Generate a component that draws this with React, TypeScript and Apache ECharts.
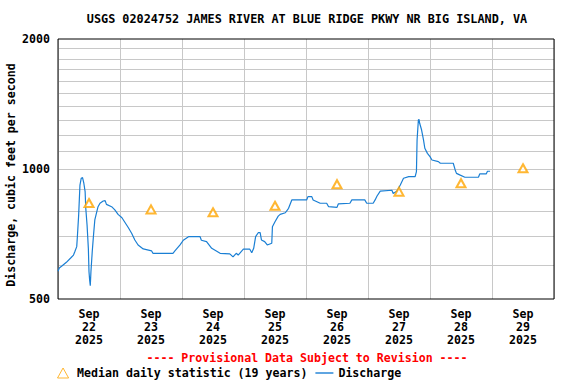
import React, { useEffect, useRef } from "react";
import * as echarts from "echarts";

const titleText = "USGS 02024752 JAMES RIVER AT BLUE RIDGE PKWY NR BIG ISLAND, VA";
const yAxisTitle = "Discharge, cubic feet per second";
const provisionalText = "---- Provisional Data Subject to Revision ----";
const medianName = "Median daily statistic (19 years)";
const dischargeName = "Discharge";

const dayLabels = [
  "Sep\n22\n2025", "Sep\n23\n2025", "Sep\n24\n2025", "Sep\n25\n2025",
  "Sep\n26\n2025", "Sep\n27\n2025", "Sep\n28\n2025", "Sep\n29\n2025",
];
const xMin = "2025-09-22 00:00";
const xMax = "2025-09-30 00:00";
const yMin = 500;
const yMax = 2000;
const yLabelValues = [500, 1000, 2000];
const gridValues = [600, 700, 800, 900, 1000, 1100, 1200, 1300, 1400, 1500, 1600, 1700, 1800, 1900];

const medianTimes = [
  "2025-09-22 12:00", "2025-09-23 12:00", "2025-09-24 12:00", "2025-09-25 12:00",
  "2025-09-26 12:00", "2025-09-27 12:00", "2025-09-28 12:00", "2025-09-29 12:00",
];
const medianValues = [834, 806, 794, 822, 922, 886, 927, 1004];

const dischargeTimes = [
  "2025-09-22 00:00", "2025-09-22 00:30", "2025-09-22 01:30", "2025-09-22 03:15", "2025-09-22 05:00",
  "2025-09-22 06:00", "2025-09-22 06:30", "2025-09-22 07:15", "2025-09-22 07:30", "2025-09-22 08:00",
  "2025-09-22 08:30", "2025-09-22 09:00", "2025-09-22 09:30", "2025-09-22 10:00", "2025-09-22 10:30",
  "2025-09-22 10:45", "2025-09-22 11:15", "2025-09-22 11:45", "2025-09-22 12:00", "2025-09-22 12:15",
  "2025-09-22 12:30", "2025-09-22 12:45", "2025-09-22 13:15", "2025-09-22 13:45", "2025-09-22 14:15",
  "2025-09-22 15:00", "2025-09-22 15:30", "2025-09-22 16:15", "2025-09-22 17:30", "2025-09-22 18:15",
  "2025-09-22 18:45", "2025-09-22 20:45", "2025-09-22 22:00", "2025-09-22 23:15",
  "2025-09-23 00:45", "2025-09-23 01:45", "2025-09-23 03:15", "2025-09-23 04:30", "2025-09-23 05:45",
  "2025-09-23 07:00", "2025-09-23 09:00", "2025-09-23 12:15", "2025-09-23 12:45", "2025-09-23 20:30",
  "2025-09-23 21:15", "2025-09-23 23:15",
  "2025-09-24 00:30", "2025-09-24 02:30", "2025-09-24 07:00", "2025-09-24 07:30", "2025-09-24 09:30",
  "2025-09-24 11:30", "2025-09-24 14:45", "2025-09-24 18:30", "2025-09-24 19:45", "2025-09-24 21:00",
  "2025-09-24 21:45", "2025-09-24 23:45",
  "2025-09-25 02:15", "2025-09-25 03:00", "2025-09-25 03:45", "2025-09-25 04:30", "2025-09-25 05:30",
  "2025-09-25 06:15", "2025-09-25 06:45", "2025-09-25 08:00", "2025-09-25 09:00", "2025-09-25 10:45",
  "2025-09-25 11:00", "2025-09-25 12:00", "2025-09-25 13:15", "2025-09-25 14:00", "2025-09-25 16:00",
  "2025-09-25 17:15", "2025-09-25 18:30", "2025-09-25 21:45",
  "2025-09-26 00:15", "2025-09-26 00:45", "2025-09-26 02:15", "2025-09-26 02:45", "2025-09-26 05:30",
  "2025-09-26 08:00", "2025-09-26 08:45", "2025-09-26 12:00", "2025-09-26 12:30", "2025-09-26 17:00",
  "2025-09-26 17:45", "2025-09-26 22:45", "2025-09-26 23:30",
  "2025-09-27 02:00", "2025-09-27 02:45", "2025-09-27 03:30", "2025-09-27 04:45", "2025-09-27 09:15",
  "2025-09-27 09:45", "2025-09-27 11:15", "2025-09-27 12:30", "2025-09-27 13:45", "2025-09-27 15:45",
  "2025-09-27 18:15", "2025-09-27 18:45", "2025-09-27 19:00", "2025-09-27 19:30", "2025-09-27 19:45",
  "2025-09-27 20:00", "2025-09-27 20:45", "2025-09-27 21:30", "2025-09-27 22:00", "2025-09-27 23:00",
  "2025-09-28 00:00", "2025-09-28 00:45", "2025-09-28 03:15", "2025-09-28 04:00", "2025-09-28 09:00",
  "2025-09-28 09:45", "2025-09-28 10:15", "2025-09-28 11:30", "2025-09-28 13:30", "2025-09-28 18:45",
  "2025-09-28 19:15", "2025-09-28 21:45", "2025-09-28 22:15", "2025-09-28 23:15",
];
const dischargeValues = [
  580, 590, 596, 608, 623,
  632, 643, 661, 697, 783,
  918, 952, 955, 927, 886,
  811, 742, 655, 578, 553,
  537, 578, 643, 703, 762,
  796, 818, 833, 843, 845,
  828, 818, 804, 785,
  771, 755, 731, 710, 685,
  667, 653, 646, 638, 638,
  646, 667,
  684, 697, 697, 684, 679,
  655, 638, 636, 626, 638,
  632, 652,
  652, 640, 655, 697, 712,
  712, 685, 679, 667, 673,
  735, 755, 778, 785, 792,
  811, 848, 848,
  848, 863, 863, 848, 833,
  833, 818, 815, 830, 833,
  848, 848, 833,
  833, 848, 866, 889, 893,
  878, 889, 918, 952, 960,
  960, 986, 1167, 1299, 1303,
  1276, 1231, 1167, 1117, 1087,
  1068, 1049, 1040, 1031, 1031,
  995, 977, 969, 957, 957,
  974, 974, 988, 988,
];

const FONT = "'DejaVu Sans Mono', 'Liberation Mono', monospace";
const FS = 11.6;
const GRID_COLOR = "#c8c8c8";
const LINE_COLOR = "#1a7fd4";
const MEDIAN_COLOR = "#ffa500";

export default function App() {
  const ref = useRef<HTMLDivElement>(null);

  useEffect(() => {
    if (!ref.current) return;
    const chart = echarts.init(ref.current, undefined, { renderer: "svg" });
    const option: any = {
      animation: false,
      backgroundColor: "#ffffff",
      textStyle: { fontFamily: FONT },
      grid: {
        show: true,
        left: 58,
        right: 22,
        top: 39,
        bottom: 85,
        borderColor: "#000000",
        borderWidth: 1,
        backgroundColor: "transparent",
        z: 3,
      },
      legend: {
        left: 57,
        top: 367,
        padding: 0,
        itemWidth: 18,
        itemHeight: 10,
        itemGap: 8,
        selectedMode: false,
        textStyle: { fontFamily: FONT, fontSize: FS, fontWeight: "bold", color: "#000" },
        data: [
          {
            name: medianName,
            icon: "path://M5,0 L10,9 L0,9 Z",
            itemStyle: { color: "#ffffff", borderColor: MEDIAN_COLOR, borderWidth: 1 },
          },
          {
            name: dischargeName,
            icon: "path://M0,0 L18,0 L18,1.4 L0,1.4 Z",
            itemStyle: { color: LINE_COLOR, borderWidth: 0 },
          },
        ],
      },
      xAxis: [
        {
          type: "time",
          min: xMin,
          max: xMax,
          show: false,
        },
        {
          type: "category",
          data: dayLabels,
          boundaryGap: true,
          position: "bottom",
          axisLine: { show: false },
          axisTick: { show: false },
          splitLine: { show: true, interval: 0, lineStyle: { color: GRID_COLOR, width: 1 } },
          axisLabel: {
            interval: 0,
            margin: 8,
            lineHeight: 13,
            fontFamily: FONT,
            fontSize: FS,
            fontWeight: "bold",
            color: "#000",
          },
        },
      ],
      yAxis: [
        {
          type: "log",
          logBase: 10,
          min: yMin,
          max: yMax,
          axisLine: { show: false },
          axisTick: { show: false },
          axisLabel: { show: false },
          splitLine: { show: false },
        },
      ],
      series: [
        {
          name: medianName,
          type: "scatter",
          xAxisIndex: 0,
          yAxisIndex: 0,
          symbol: "emptyTriangle",
          symbolSize: [9, 8],
          itemStyle: { color: MEDIAN_COLOR, borderWidth: 1 },
          data: medianTimes.map((t, i) => [t, medianValues[i]]),
          z: 4,
          markLine: {
            silent: true,
            symbol: "none",
            z: 1,
            lineStyle: { color: "transparent", width: 0 },
            label: {
              show: true,
              position: "start",
              distance: 8,
              formatter: (p: any) => String(p.value),
              fontFamily: FONT,
              fontSize: FS,
              fontWeight: "bold",
              color: "#000",
            },
            data: yLabelValues.map((v) => ({ yAxis: v })),
          },
        },
        {
          name: dischargeName,
          type: "line",
          xAxisIndex: 0,
          yAxisIndex: 0,
          symbol: "none",
          showSymbol: false,
          lineStyle: { color: LINE_COLOR, width: 1.2 },
          itemStyle: { color: LINE_COLOR },
          data: dischargeTimes.map((t, i) => [t, dischargeValues[i]]),
          z: 3,
          markLine: {
            silent: true,
            symbol: "none",
            z: 1,
            lineStyle: { color: GRID_COLOR, width: 1, type: "solid" },
            label: { show: false },
            emphasis: { disabled: true },
            data: gridValues.map((v) => ({ yAxis: v })),
          },
        },
      ],
      graphic: [
        {
          type: "text",
          x: 307,
          y: 19,
          style: {
            text: titleText,
            textAlign: "center",
            textVerticalAlign: "middle",
            fontFamily: FONT,
            fontSize: 11.8,
            fontWeight: "bold",
            fill: "#000",
          },
        },
        {
          type: "text",
          x: 11,
          y: 175,
          rotation: Math.PI / 2,
          style: {
            text: yAxisTitle,
            textAlign: "center",
            textVerticalAlign: "middle",
            fontFamily: FONT,
            fontSize: FS,
            fontWeight: "bold",
            fill: "#000",
          },
        },
        {
          type: "text",
          x: 307,
          y: 358,
          style: {
            text: provisionalText,
            textAlign: "center",
            textVerticalAlign: "middle",
            fontFamily: FONT,
            fontSize: FS,
            fontWeight: "bold",
            fill: "#ff0000",
          },
        },
      ],
    };
    chart.setOption(option);
    return () => {
      chart.dispose();
    };
  }, []);

  return (
    <div
      ref={ref}
      style={{ position: "fixed", left: 0, top: 0, width: 576, height: 384, background: "#fff" }}
    />
  );
}
